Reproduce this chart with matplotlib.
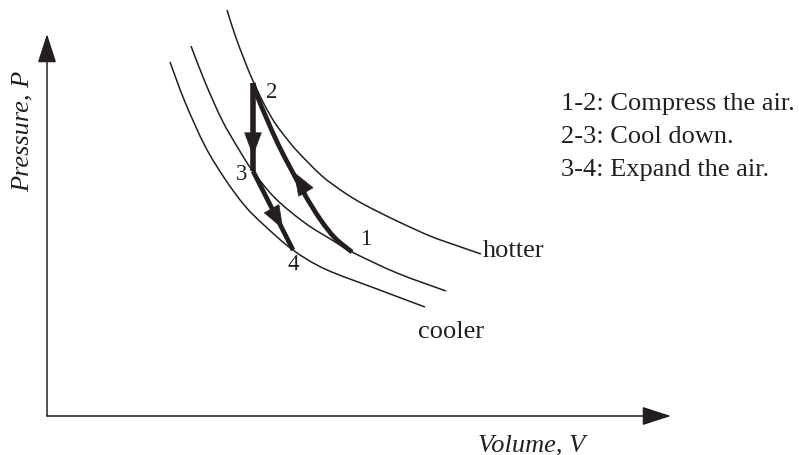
import numpy as np
import matplotlib
matplotlib.use("Agg")
import matplotlib.pyplot as plt
from matplotlib.patches import FancyArrowPatch, PathPatch
from matplotlib.path import Path

INK = "#231f20"
SERIF = ["Liberation Serif", "DejaVu Serif"]

# Isotherms (volume, pressure) in diagram units
hotter_V = [180, 188, 197, 206, 217, 228, 240, 251, 275, 298, 318, 350, 383, 408, 434]
hotter_P = [406, 381, 357, 335, 312, 293, 277, 264, 240, 223, 211, 195, 180, 171, 162]

middle_V = [144, 158, 175, 191, 205, 228, 258, 285, 305, 350, 399]
middle_P = [370, 334, 296, 268, 246, 218, 193, 176, 164, 143, 125]

cooler_V = [123, 138, 158, 178, 198, 218, 246, 278, 330, 378]
cooler_P = [354, 314, 270, 237, 210, 190, 166, 147, 127, 109]

# Cycle states 1..4
state_labels = ["1", "2", "3", "4"]
state_V = [305, 206, 206, 246]
state_P = [164, 333, 245, 166]

# Process 1-2 (compression) path
comp_V = [305, 288, 273, 258, 245, 231, 219, 211, 206]
comp_P = [164, 178, 197, 221, 245, 272, 299, 318, 333]

legend_lines = ["1-2: Compress the air.", "2-3: Cool down.", "3-4: Expand the air."]


def smooth_path(xs, ys):
    """Cubic Bezier path passing through every given point (Catmull-Rom tangents)."""
    pts = np.column_stack([xs, ys]).astype(float)
    n = len(pts)
    verts = [pts[0]]
    codes = [Path.MOVETO]
    for i in range(n - 1):
        p0 = pts[i - 1] if i > 0 else pts[i]
        p1, p2 = pts[i], pts[i + 1]
        p3 = pts[i + 2] if i + 2 < n else pts[i + 1]
        verts += [p1 + (p2 - p0) / 6.0, p2 - (p3 - p1) / 6.0, p2]
        codes += [Path.CURVE4] * 3
    return Path(verts, codes)


fig = plt.figure(figsize=(7.99, 4.56), dpi=100)
ax = fig.add_axes([0, 0, 1, 1])
ax.set_xlim(-47, 752)
ax.set_ylim(-39, 417)
ax.axis("off")

# Axes with arrow heads
for end in [(0, 382), (624, 0)]:
    ax.add_patch(FancyArrowPatch((0, 0), end, arrowstyle="-|>,head_length=18,head_width=5.8",
                                 mutation_scale=1, color=INK, lw=1.1, shrinkA=0, shrinkB=0))

# Isotherms
for V, P in [(hotter_V, hotter_P), (middle_V, middle_P), (cooler_V, cooler_P)]:
    ax.add_patch(PathPatch(smooth_path(V, P), fill=False, edgecolor=INK, lw=1.1,
                           capstyle="butt"))

# Cycle paths
cyc_lw = 3.4
ax.add_patch(PathPatch(smooth_path(comp_V, comp_P), fill=False, edgecolor=INK, lw=cyc_lw,
                       capstyle="butt", joinstyle="round"))
ax.plot([state_V[1], state_V[2]], [state_P[1], state_P[2]], color=INK, lw=4.0,
        solid_capstyle="butt")
ax.plot([state_V[2], state_V[3]], [state_P[2], state_P[3]], color=INK, lw=cyc_lw,
        solid_capstyle="butt")

# Direction arrow heads on the paths
head = "-|>,head_length=16,head_width=6"
for a, b in [((206, 290), (206, 260)),
             ((260, 222), (247, 244)),
             ((222, 212), (236, 187))]:
    ax.add_patch(FancyArrowPatch(a, b, arrowstyle=head, mutation_scale=1, color=INK,
                                 lw=0.5, shrinkA=0, shrinkB=0))

# State numbers
offsets = [(9.5, 10), (13.5, -6), (-8, -1.5), (0, -9.5)]
for lab, v, p, off in zip(state_labels, state_V, state_P, offsets):
    ax.annotate(lab, (v, p), xytext=off, textcoords="offset points", ha="center",
                va="center", fontsize=16.5, family=SERIF, color=INK)

ax.text(436, 160, "hotter", ha="left", va="baseline", fontsize=19, family=SERIF, color=INK)
ax.text(371, 79, "cooler", ha="left", va="baseline", fontsize=19, family=SERIF, color=INK)

for i, line in enumerate(legend_lines):
    ax.text(514, 307 - 33 * i, line, ha="left", va="baseline", fontsize=19,
            family=SERIF, color=INK)

ax.text(485, -34, "Volume, V", ha="center", va="baseline", fontsize=19, family=SERIF,
        style="italic", color=INK)
ax.text(-24, 286, "Pressure, P", ha="center", va="center", rotation=90, fontsize=19,
        family=SERIF, style="italic", color=INK)

fig.savefig("out.png", dpi=100)
